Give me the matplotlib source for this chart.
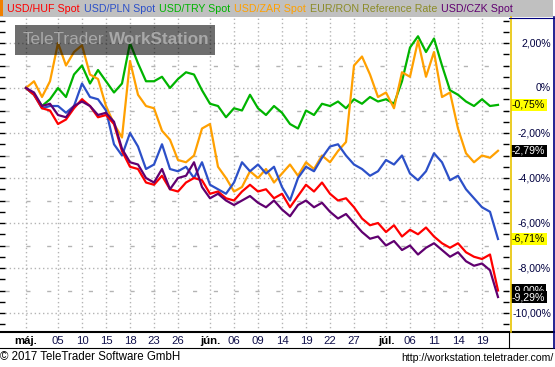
import matplotlib
matplotlib.use("Agg")
import matplotlib.pyplot as plt
import matplotlib.transforms as mtransforms
from matplotlib.lines import Line2D
from matplotlib.patches import Rectangle
from matplotlib.ticker import MultipleLocator
import pandas as pd

# trading days shown on the chart (May 1 - Jul 21, 2017)
dates = pd.bdate_range("2017-05-01", "2017-07-21")

# % change since start
usd_huf = [0, -0.3, -0.9, -1.0, -1.6, -1.4, -0.9, -0.5, -0.8, -1.3,
           -1.2, -1.6, -2.8, -3.5, -3.6, -4.2, -4.3, -3.9, -4.5, -4.6,
           -4.2, -4.0, -4.1, -4.7, -4.6, -4.9, -5.0, -4.6, -4.3, -4.6,
           -4.5, -4.9, -4.7, -5.3, -4.8, -4.3, -4.6, -4.2, -4.7, -5.0,
           -4.9, -5.3, -5.8, -6.1, -6.0, -6.4, -6.1, -6.6, -6.3, -6.5,
           -6.2, -6.6, -6.9, -7.1, -6.9, -7.3, -7.5, -7.6, -7.4, -9.00]
usd_pln = [0, -0.3, -0.9, -0.8, -0.8, -1.1, -0.8, 0.2, -0.4, -0.5,
           -1.0, -2.5, -3.0, -2.0, -2.6, -3.6, -3.4, -2.5, -3.6, -3.7,
           -3.5, -4.0, -3.3, -4.3, -4.5, -4.7, -4.2, -3.3, -3.7, -3.4,
           -3.8, -3.5, -4.4, -5.0, -4.0, -3.5, -3.7, -3.1, -2.6, -2.5,
           -3.0, -3.4, -3.6, -3.9, -3.7, -3.2, -3.4, -3.0, -3.8, -4.1,
           -3.7, -2.9, -3.3, -4.1, -3.9, -4.5, -4.9, -5.3, -5.5, -6.71]
usd_try = [0, -0.3, -0.8, -0.5, 0.0, -0.4, 0.6, 1.0, 0.2, 0.8,
           0.3, -0.2, 0.2, 2.0, 1.1, 0.3, 0.3, 0.5, 0.0, 0.4,
           0.7, 0.6, -0.1, -0.7, -0.8, -1.3, -0.9, -1.0, -0.3, -0.9,
           -1.2, -0.8, -1.1, -1.6, -1.8, -1.0, -1.2, -0.7, -0.8, -0.6,
           -0.9, -0.5, -0.7, -0.4, -0.6, -0.5, -0.7, 0.3, 1.8, 2.3,
           1.6, 2.2, 1.0, -0.1, -0.3, -0.6, -0.8, -0.5, -0.8, -0.75]
usd_zar = [0, 0.3, -0.4, 0.3, 2.0, 1.0, 1.6, 1.9, 0.6, 0.4,
           -0.8, -1.6, -2.2, 1.2, -0.3, -0.8, -0.9, -1.9, -2.3, -3.2,
           -3.3, -3.0, -1.8, -1.6, -3.5, -4.0, -4.6, -4.4, -3.7, -4.0,
           -3.6, -4.2, -3.8, -3.4, -3.9, -3.3, -3.6, -3.0, -3.3, -2.8,
           -2.4, 1.0, 1.4, 0.6, -0.4, -0.2, -0.9, 0.7, 0.5, 2.1,
           0.5, 1.6, -0.4, -0.2, -1.8, -2.9, -3.3, -3.0, -3.1, -2.79]
usd_czk = [0, -0.2, -0.8, -0.7, -1.2, -1.3, -0.8, -0.6, -0.8, -1.2,
           -1.1, -1.5, -2.7, -3.3, -3.4, -4.0, -4.2, -3.6, -4.5, -4.0,
           -3.9, -3.3, -4.4, -4.9, -4.7, -5.0, -5.2, -5.0, -4.8, -5.1,
           -5.3, -5.0, -5.4, -5.7, -5.2, -5.0, -5.3, -5.1, -5.5, -5.8,
           -5.6, -6.0, -6.4, -6.7, -6.6, -7.0, -6.8, -7.2, -7.0, -7.4,
           -7.1, -6.9, -7.2, -7.5, -7.3, -7.7, -7.9, -7.8, -8.1, -9.29]

names = ["USD/HUF Spot", "USD/PLN Spot", "USD/TRY Spot", "USD/ZAR Spot",
         "EUR/RON Reference Rate", "USD/CZK Spot"]
colors = ["#ff0000", "#2c50c8", "#00b400", "#ffa000", "#8c8c28", "#600070"]

tick_dates = ["2017-05-01", "2017-05-05", "2017-05-10", "2017-05-15", "2017-05-18",
              "2017-05-23", "2017-05-26", "2017-06-01", "2017-06-06", "2017-06-09",
              "2017-06-14", "2017-06-19", "2017-06-22", "2017-06-27", "2017-07-03",
              "2017-07-06", "2017-07-11", "2017-07-14", "2017-07-19"]
tick_labels = ["máj.", "05", "10", "15", "18", "23", "26", "jún.", "06", "09",
               "14", "19", "22", "27", "júl.", "06", "11", "14", "19"]

W, H = 555, 367


def fx(x):
    return x / W


def fy(y):
    return 1 - y / H


plt.rcParams["font.family"] = ["Liberation Sans", "DejaVu Sans"]
fig = plt.figure(figsize=(W / 100, H / 100), dpi=100)
renderer = fig.canvas.get_renderer()

ax = fig.add_axes([fx(5), fy(332), fx(509) - fx(5), fy(17) - fy(332)])
ax.set_facecolor("white")
for s in ax.spines.values():
    s.set_visible(False)

x = list(range(len(dates)))
series = [(usd_try, colors[2]), (usd_zar, colors[3]), (usd_pln, colors[1]),
          (usd_huf, colors[0]), (usd_czk, colors[5])]
for vals, col in series:
    ax.plot(x, vals, color=col, lw=1.6, zorder=3)

ax.set_xlim(-2.625, 60.375)
ax.set_ylim(-10.844, 3.156)

# grid
pos = [dates.get_loc(pd.Timestamp(d)) for d in tick_dates]
ax.set_xticks(pos)
ax.set_xticklabels(tick_labels, fontsize=8.2, color="#10104a")
for lbl, t in zip(ax.get_xticklabels(), tick_labels):
    if "." in t:
        lbl.set_fontweight("bold")
        lbl.set_color("black")
ax.tick_params(axis="x", length=0, pad=3)
ax.grid(axis="x", color="#b4b4b4", ls=(0, (1, 2)), lw=1, zorder=0)
for g in range(-10, 3, 2):
    ax.axhline(g, color="#b4b4b4", ls=(0, (1, 2)), lw=1, zorder=0)
for g in range(-9, 3, 2):
    ax.axhline(g, color="#b4b4b4", ls=(0, (3, 12)), lw=1, zorder=0)

ax.yaxis.set_major_locator(MultipleLocator(0.5))
ax.tick_params(axis="y", direction="out", length=4, width=1, labelleft=False)
ax2 = ax.twinx()
ax2.set_ylim(ax.get_ylim())
for s in ax2.spines.values():
    s.set_visible(False)
ax2.yaxis.set_major_locator(MultipleLocator(0.5))
ax2.tick_params(axis="y", direction="in", length=4, width=1, labelright=False)

# right value labels
trans = mtransforms.blended_transform_factory(ax.transAxes, ax.transData)
xr = (551 - 5) / 504
for g in range(-10, 3, 2):
    txt = "0%" if g == 0 else f"{g:.2f}%".replace(".", ",")
    ax.text(xr, g, txt, transform=trans, ha="right", va="center",
            fontsize=7.6, color="#000040", clip_on=False)

xl = (512 - 5) / 504
last = [(usd_try[-1], "#ffff00", "black"), (usd_zar[-1], "black", "white"),
        (usd_pln[-1], "#ffff00", "black"), (usd_huf[-1], "black", "white"),
        (usd_czk[-1], "black", "white")]
for v, bg, fg in last:
    ax.text(xl, v, f"{v:.2f}%".replace(".", ","), transform=trans, ha="left",
            va="center", fontsize=7.6, color=fg, clip_on=False,
            bbox=dict(boxstyle="square,pad=0.12", fc=bg, ec="none"))

# legend bar
fig.add_artist(Rectangle((0, fy(17)), fx(553), 17 / H, transform=fig.transFigure,
                         fc="#c0c0c0", ec="none", zorder=1))
fig.add_artist(Rectangle((0, fy(16)), fx(3), 16 / H, transform=fig.transFigure,
                         fc="#f08000", ec="none", zorder=2))
lx = 7
for name, col in zip(names, colors):
    t = fig.text(fx(lx), fy(8.5), name, color=col, fontsize=7.7, va="center",
                 ha="left", zorder=3)
    lx += t.get_window_extent(renderer).width + 4

# watermark
fig.add_artist(Rectangle((fx(15), fy(55)), fx(215) - fx(15), 30 / H,
                         transform=fig.transFigure, fc="black", alpha=0.57,
                         ec="none", zorder=5))
t1 = fig.text(fx(23), fy(40), "TeleTrader", color="#a8a8a8", fontsize=12.3,
              va="center", ha="left", zorder=6)
wx = 23 + t1.get_window_extent(renderer).width + 4
fig.text(fx(wx), fy(40), "WorkStation", color="#a8a8a8", fontsize=12.3,
         fontweight="bold", va="center", ha="left", zorder=6)


# frame lines
def hline(y, x0, x1, col, lw):
    fig.add_artist(Line2D([fx(x0), fx(x1)], [fy(y), fy(y)], color=col, lw=lw,
                          transform=fig.transFigure, zorder=7))


def vline(xp, y0, y1, col, lw):
    fig.add_artist(Line2D([fx(xp), fx(xp)], [fy(y0), fy(y1)], color=col, lw=lw,
                          transform=fig.transFigure, zorder=7))


hline(332, 0, 555, "black", 1.5)
hline(348, 0, 555, "black", 0.8)
vline(510.5, 17, 332, "#e8c400", 1.2)
vline(509, 332, 348, "black", 0.8)
vline(553.5, 17, 348, "#000080", 1.2)
hline(17.5, 509, 554, "#000080", 0.8)

# footer
fig.text(fx(0), fy(357), "\u00a9 2017 TeleTrader Software GmbH", fontsize=8.3,
         color="black", va="center", ha="left")
fig.text(fx(553), fy(358), "http://workstation.teletrader.com/", fontsize=7.6,
         color="black", va="center", ha="right")

fig.savefig("out.png", dpi=100, facecolor="white")
